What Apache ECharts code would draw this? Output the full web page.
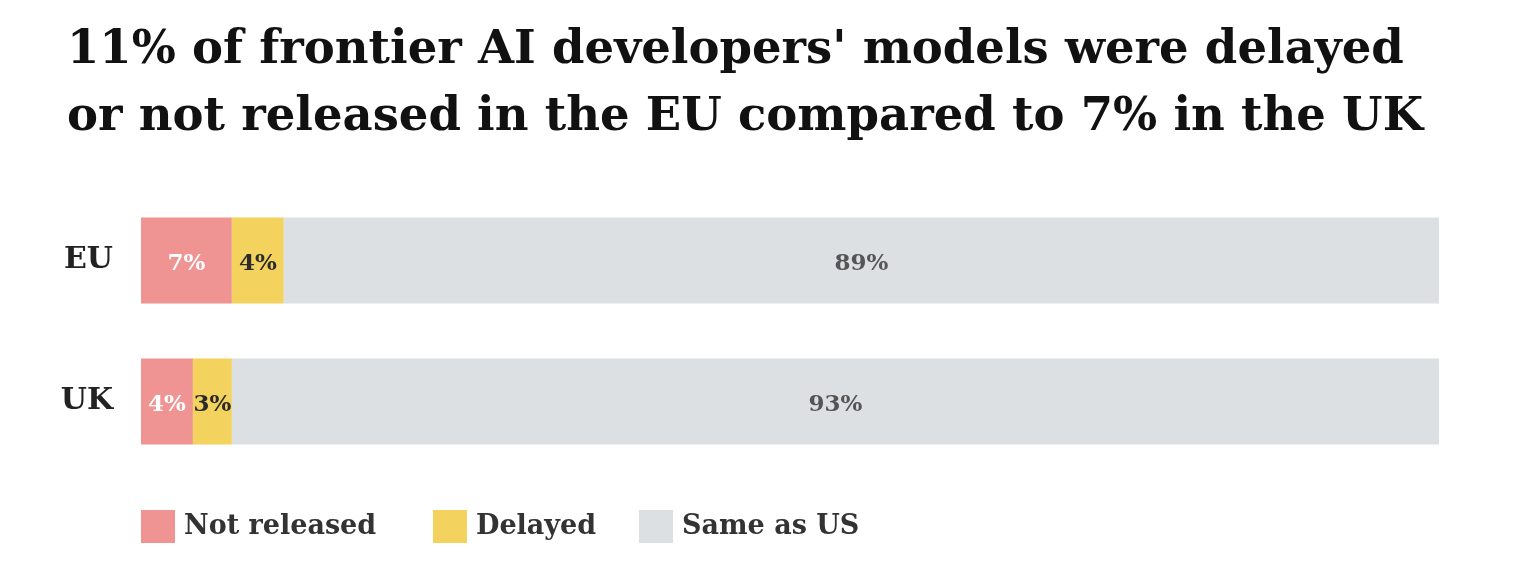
<!DOCTYPE html>
<html><head><meta charset="utf-8">
<script src="https://cdn.jsdelivr.net/npm/echarts@6/dist/echarts.min.js"></script>
<style>html,body{margin:0;padding:0;background:#fff}#c{width:1536px;height:588px}</style>
</head><body><div id="c"></div>
<script>
const categories = ['EU', 'UK'];
const notReleased = [7, 4];
const delayed = [4, 3];
const sameAsUS = [89, 93];
const seriesNames = ['Not released', 'Delayed', 'Same as US'];
const titleText = "11% of frontier AI developers' models were delayed\nor not released in the EU compared to 7% in the UK";

const FONT = '"DejaVu Serif", "Liberation Serif", serif';
const colors = ['#F09393', '#F3D25E', '#DDE0E3'];
const labelColors = ['#ffffff', '#2b2b2b', '#555555'];
const dataSets = [notReleased, delayed, sameAsUS];
const legendLefts = [141, 433, 639];

const chart = echarts.init(document.getElementById('c'));
chart.setOption({
  animation: false,
  backgroundColor: '#ffffff',
  title: {
    text: titleText, left: 62, top: 12,
    textStyle: { fontFamily: FONT, fontWeight: 'bold', fontSize: 46.5, lineHeight: 67, color: '#111' }
  },
  legend: seriesNames.map((n, i) => ({
    left: legendLefts[i], top: 510, padding: 0, icon: 'rect', itemWidth: 34, itemHeight: 33,
    data: [n], selectedMode: false,
    textStyle: { fontFamily: FONT, fontWeight: 'bold', fontSize: 27, color: '#333', padding: [0,0,0,4] }
  })),
  grid: { left: 141, right: 97, top: 190, bottom: 116 },
  xAxis: { type: 'value', min: 0, max: 100, show: false },
  yAxis: {
    type: 'category', data: categories, inverse: true,
    axisLine: { show: false }, axisTick: { show: false },
    axisLabel: { margin: 28, fontFamily: FONT, fontWeight: 'bold', fontSize: 30, color: '#222', padding: [6,0,0,0] }
  },
  series: seriesNames.map((n, i) => ({
    name: n, type: 'bar', stack: 'total', barCategoryGap: '39%',
    data: dataSets[i],
    itemStyle: { color: colors[i] },
    label: {
      show: true, position: 'inside', offset: [0, 4], formatter: p => p.value + '%',
      fontFamily: FONT, fontWeight: 'bold', fontSize: 23, color: labelColors[i]
    }
  }))
});
</script></body></html>
